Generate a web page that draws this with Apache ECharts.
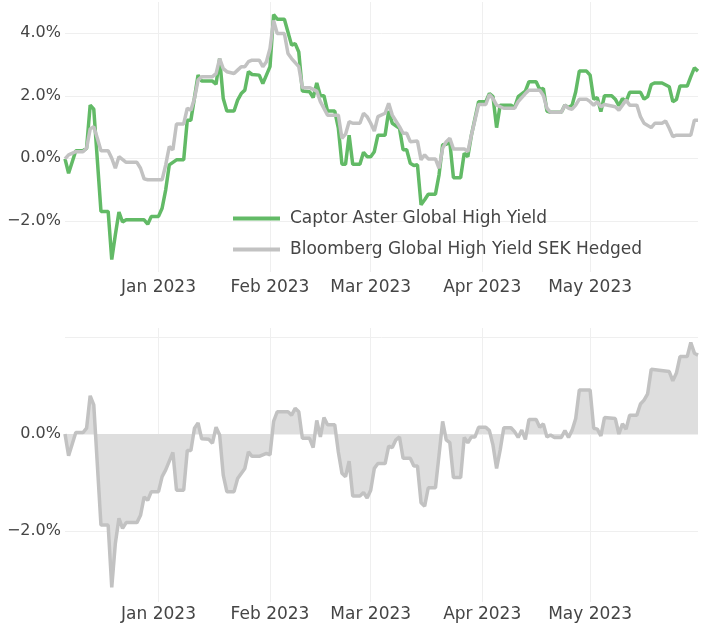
<!DOCTYPE html>
<html>
<head>
<meta charset="utf-8">
<script src="https://cdn.jsdelivr.net/npm/echarts@6/dist/echarts.min.js"></script>
<style>
html,body{margin:0;padding:0;background:#fff;}
#chart{width:707px;height:627px;}
</style>
</head>
<body>
<div id="chart"></div>
<script>
const seriesNames = ['Captor Aster Global High Yield', 'Bloomberg Global High Yield SEK Hedged'];
const monthTicks = ['2023-01-01','2023-02-01','2023-03-01','2023-04-01','2023-05-01'];
const monthNames = ['Jan','Feb','Mar','Apr','May','Jun','Jul','Aug','Sep','Oct','Nov','Dec'];
const topYTicks = [-2, 0, 2, 4];
const bottomYTicks = [-2, 0, 2];
const bottomYLabels = [-2, 0];

const captor = [
['2022-12-06',-0.02],['2022-12-07',-0.48],['2022-12-09',0.24],['2022-12-11',0.24],['2022-12-12',0.32],
['2022-12-13',1.70],['2022-12-14',1.57],['2022-12-16',-1.70],['2022-12-18',-1.70],['2022-12-19',-3.24],
['2022-12-20',-2.45],['2022-12-21',-1.72],['2022-12-22',-2.04],['2022-12-23',-1.97],['2022-12-28',-1.97],
['2022-12-29',-2.11],['2022-12-30',-1.86],['2023-01-01',-1.86],['2023-01-02',-1.60],['2023-01-03',-1.01],
['2023-01-04',-0.21],['2023-01-06',-0.05],['2023-01-08',-0.05],['2023-01-09',1.22],['2023-01-10',1.22],
['2023-01-12',2.66],['2023-01-13',2.47],['2023-01-16',2.47],['2023-01-17',2.37],['2023-01-18',3.19],
['2023-01-19',1.91],['2023-01-20',1.51],['2023-01-22',1.51],['2023-01-23',1.86],['2023-01-24',2.07],
['2023-01-25',2.18],['2023-01-26',2.77],['2023-01-27',2.68],['2023-01-29',2.66],['2023-01-30',2.39],
['2023-01-31',2.66],['2023-02-01',2.93],['2023-02-02',4.60],['2023-02-03',4.45],['2023-02-05',4.45],
['2023-02-07',3.62],['2023-02-08',3.67],['2023-02-09',3.40],['2023-02-10',2.15],['2023-02-12',2.13],
['2023-02-13',1.94],['2023-02-14',2.41],['2023-02-15',2.00],['2023-02-16',2.00],['2023-02-17',1.51],
['2023-02-19',1.51],['2023-02-20',0.96],['2023-02-21',-0.19],['2023-02-22',-0.19],['2023-02-23',0.74],
['2023-02-24',-0.19],['2023-02-26',-0.19],['2023-02-27',0.19],['2023-02-28',0.05],['2023-03-01',0.05],
['2023-03-02',0.21],['2023-03-03',0.74],['2023-03-05',0.74],['2023-03-06',1.51],['2023-03-07',1.12],
['2023-03-09',0.96],['2023-03-10',0.27],['2023-03-11',0.27],['2023-03-12',-0.16],['2023-03-13',-0.23],
['2023-03-14',-0.21],['2023-03-15',-1.49],['2023-03-16',-1.33],['2023-03-17',-1.15],['2023-03-19',-1.15],
['2023-03-20',-0.53],['2023-03-21',0.43],['2023-03-22',0.45],['2023-03-23',0.51],['2023-03-24',-0.62],
['2023-03-26',-0.62],['2023-03-27',0.16],['2023-03-28',0.05],['2023-03-29',0.74],['2023-03-31',1.81],
['2023-04-02',1.81],['2023-04-03',2.07],['2023-04-04',1.97],['2023-04-05',0.98],['2023-04-06',1.70],
['2023-04-09',1.70],['2023-04-10',1.62],['2023-04-11',1.97],['2023-04-13',2.15],['2023-04-14',2.45],
['2023-04-16',2.45],['2023-04-17',2.20],['2023-04-18',2.23],['2023-04-19',1.51],['2023-04-20',1.47],
['2023-04-23',1.47],['2023-04-24',1.70],['2023-04-25',1.62],['2023-04-26',1.70],['2023-04-27',2.13],
['2023-04-28',2.79],['2023-04-30',2.79],['2023-05-01',2.66],['2023-05-02',1.89],['2023-05-03',1.94],
['2023-05-04',1.49],['2023-05-05',2.00],['2023-05-07',2.00],['2023-05-08',1.89],['2023-05-09',1.68],
['2023-05-10',1.91],['2023-05-11',1.81],['2023-05-12',2.11],['2023-05-15',2.11],['2023-05-16',1.89],
['2023-05-17',1.97],['2023-05-18',2.36],['2023-05-19',2.41],['2023-05-21',2.41],['2023-05-23',2.29],
['2023-05-24',1.81],['2023-05-25',1.88],['2023-05-26',2.31],['2023-05-28',2.31],['2023-05-29',2.61],
['2023-05-30',2.89],['2023-05-31',2.79]
];

const bloomberg = [
['2022-12-06',-0.02],['2022-12-07',0.11],['2022-12-09',0.21],['2022-12-11',0.21],['2022-12-12',0.32],
['2022-12-13',0.94],['2022-12-14',1.01],['2022-12-15',0.64],['2022-12-16',0.24],['2022-12-18',0.24],
['2022-12-19',0.00],['2022-12-20',-0.32],['2022-12-21',0.05],['2022-12-23',-0.13],['2022-12-26',-0.13],
['2022-12-27',-0.32],['2022-12-28',-0.66],['2022-12-29',-0.69],['2023-01-02',-0.69],['2023-01-03',-0.21],
['2023-01-04',0.37],['2023-01-05',0.27],['2023-01-06',1.10],['2023-01-08',1.10],['2023-01-09',1.60],
['2023-01-10',1.54],['2023-01-11',1.91],['2023-01-12',2.50],['2023-01-13',2.61],['2023-01-16',2.61],
['2023-01-17',2.71],['2023-01-18',3.19],['2023-01-19',2.87],['2023-01-20',2.77],['2023-01-22',2.71],
['2023-01-23',2.82],['2023-01-24',2.93],['2023-01-25',2.93],['2023-01-26',3.09],['2023-01-27',3.14],
['2023-01-29',3.14],['2023-01-30',2.93],['2023-01-31',3.09],['2023-02-01',3.51],['2023-02-02',4.41],
['2023-02-03',3.99],['2023-02-05',3.99],['2023-02-06',3.35],['2023-02-07',3.19],['2023-02-09',2.93],
['2023-02-10',2.26],['2023-02-12',2.26],['2023-02-14',2.15],['2023-02-15',1.81],['2023-02-17',1.38],
['2023-02-20',1.38],['2023-02-21',0.64],['2023-02-22',0.77],['2023-02-23',1.17],['2023-02-24',1.12],
['2023-02-26',1.12],['2023-02-27',1.44],['2023-02-28',1.33],['2023-03-01',1.12],['2023-03-02',0.87],
['2023-03-03',1.33],['2023-03-05',1.44],['2023-03-06',1.76],['2023-03-07',1.38],['2023-03-09',1.01],
['2023-03-10',0.80],['2023-03-11',0.80],['2023-03-12',0.53],['2023-03-14',0.55],['2023-03-15',-0.05],
['2023-03-16',0.11],['2023-03-17',-0.02],['2023-03-19',-0.02],['2023-03-20',-0.32],['2023-03-21',0.32],
['2023-03-22',0.53],['2023-03-23',0.64],['2023-03-24',0.30],['2023-03-27',0.30],['2023-03-28',0.21],
['2023-03-29',0.74],['2023-03-31',1.72],['2023-04-02',1.72],['2023-04-03',2.04],['2023-04-04',1.91],
['2023-04-05',1.70],['2023-04-07',1.60],['2023-04-10',1.60],['2023-04-11',1.81],['2023-04-13',2.07],
['2023-04-14',2.18],['2023-04-17',2.18],['2023-04-18',2.01],['2023-04-19',1.60],['2023-04-20',1.47],
['2023-04-23',1.47],['2023-04-24',1.70],['2023-04-25',1.60],['2023-04-26',1.57],['2023-04-27',1.70],
['2023-04-28',1.89],['2023-04-30',1.89],['2023-05-01',1.81],['2023-05-02',1.70],['2023-05-03',1.81],
['2023-05-04',1.65],['2023-05-05',1.72],['2023-05-08',1.65],['2023-05-09',1.54],['2023-05-10',1.70],
['2023-05-11',1.86],['2023-05-12',1.70],['2023-05-14',1.70],['2023-05-15',1.33],['2023-05-16',1.12],
['2023-05-18',0.98],['2023-05-19',1.12],['2023-05-21',1.12],['2023-05-22',1.19],['2023-05-23',0.96],
['2023-05-24',0.69],['2023-05-25',0.74],['2023-05-29',0.74],['2023-05-30',1.22],['2023-05-31',1.22]
];

const excess = [
['2022-12-06',0.00],['2022-12-07',-0.45],['2022-12-09',0.03],['2022-12-11',0.03],['2022-12-12',0.12],
['2022-12-13',0.79],['2022-12-14',0.60],['2022-12-16',-1.88],['2022-12-18',-1.88],['2022-12-19',-3.17],
['2022-12-20',-2.26],['2022-12-21',-1.74],['2022-12-22',-1.95],['2022-12-23',-1.83],['2022-12-26',-1.83],
['2022-12-27',-1.68],['2022-12-28',-1.30],['2022-12-29',-1.37],['2022-12-30',-1.19],['2023-01-01',-1.19],
['2023-01-02',-0.88],['2023-01-03',-0.74],['2023-01-05',-0.38],['2023-01-06',-1.16],['2023-01-08',-1.16],
['2023-01-09',-0.34],['2023-01-10',-0.34],['2023-01-11',0.12],['2023-01-12',0.23],['2023-01-13',-0.10],
['2023-01-15',-0.11],['2023-01-16',-0.19],['2023-01-17',0.14],['2023-01-18',-0.02],['2023-01-19',-0.85],
['2023-01-20',-1.19],['2023-01-22',-1.19],['2023-01-23',-0.92],['2023-01-25',-0.71],['2023-01-26',-0.37],
['2023-01-27',-0.46],['2023-01-29',-0.46],['2023-01-31',-0.40],['2023-02-01',-0.43],['2023-02-02',0.26],
['2023-02-03',0.46],['2023-02-06',0.46],['2023-02-07',0.39],['2023-02-08',0.53],['2023-02-09',0.46],
['2023-02-10',-0.09],['2023-02-12',-0.09],['2023-02-13',-0.28],['2023-02-14',0.28],['2023-02-15',-0.06],
['2023-02-16',0.34],['2023-02-17',0.19],['2023-02-19',0.19],['2023-02-20',-0.37],['2023-02-21',-0.81],
['2023-02-22',-0.88],['2023-02-23',-0.56],['2023-02-24',-1.28],['2023-02-26',-1.28],['2023-02-27',-1.21],
['2023-02-28',-1.32],['2023-03-01',-1.16],['2023-03-02',-0.71],['2023-03-03',-0.61],['2023-03-05',-0.61],
['2023-03-06',-0.25],['2023-03-07',-0.28],['2023-03-08',-0.12],['2023-03-09',-0.06],['2023-03-10',-0.50],
['2023-03-12',-0.50],['2023-03-13',-0.66],['2023-03-14',-0.66],['2023-03-15',-1.42],['2023-03-16',-1.49],
['2023-03-17',-1.11],['2023-03-19',-1.11],['2023-03-20',-0.43],['2023-03-21',0.26],['2023-03-22',-0.12],
['2023-03-23',-0.18],['2023-03-24',-0.90],['2023-03-26',-0.90],['2023-03-27',-0.07],['2023-03-28',-0.18],
['2023-03-29',-0.06],['2023-03-30',-0.06],['2023-03-31',0.14],['2023-04-02',0.14],['2023-04-03',0.07],
['2023-04-04',-0.23],['2023-04-05',-0.71],['2023-04-06',-0.33],['2023-04-07',0.13],['2023-04-09',0.13],
['2023-04-10',0.05],['2023-04-11',-0.07],['2023-04-12',0.08],['2023-04-13',-0.11],['2023-04-14',0.30],
['2023-04-16',0.30],['2023-04-17',0.14],['2023-04-18',0.21],['2023-04-19',-0.06],['2023-04-20',-0.02],
['2023-04-21',-0.07],['2023-04-23',-0.07],['2023-04-24',0.07],['2023-04-25',-0.07],['2023-04-26',0.08],
['2023-04-27',0.32],['2023-04-28',0.91],['2023-05-01',0.91],['2023-05-02',0.12],['2023-05-03',0.10],
['2023-05-04',-0.04],['2023-05-05',0.34],['2023-05-08',0.32],['2023-05-09',0.00],['2023-05-10',0.21],
['2023-05-11',0.10],['2023-05-12',0.39],['2023-05-14',0.39],['2023-05-15',0.62],['2023-05-16',0.70],
['2023-05-17',0.83],['2023-05-18',1.34],['2023-05-23',1.29],['2023-05-24',1.10],['2023-05-25',1.26],
['2023-05-26',1.60],['2023-05-28',1.60],['2023-05-29',1.89],['2023-05-30',1.67],['2023-05-31',1.63]
];

const FONT = 'DejaVu Sans';
const TEXT = '#454545';
const GRID_LINE = '#efefef';

function toTs(s){ const p = s.split('-').map(Number); return Date.UTC(p[0], p[1]-1, p[2]); }
function toPoints(arr){ return arr.map(function(d){ return [toTs(d[0]), d[1]]; }); }
const tickTs = monthTicks.map(toTs);
const xMin = toTs('2022-12-06');
const xMax = toTs('2023-05-31');
function pct(v){ return (v < 0 ? '\u2212' : '') + Math.abs(v).toFixed(1) + '%'; }
function monthLabel(v){ const d = new Date(v); return monthNames[d.getUTCMonth()] + ' ' + d.getUTCFullYear(); }

function xAxisCfg(gridIndex, margin){
  return {
    type: 'value', gridIndex: gridIndex, min: xMin, max: xMax,
    axisLine: {show: false}, axisTick: {show: false, customValues: tickTs},
    splitLine: {show: true, lineStyle: {color: GRID_LINE, width: 1}},
    axisLabel: {customValues: tickTs, formatter: monthLabel, color: TEXT, fontFamily: FONT, fontSize: 17, margin: margin, hideOverlap: false}
  };
}
function yAxisCfg(gridIndex, min, max, ticks, labels){
  return {
    type: 'value', gridIndex: gridIndex, min: min, max: max,
    axisLine: {show: false}, axisTick: {show: false, customValues: ticks},
    splitLine: {show: true, lineStyle: {color: GRID_LINE, width: 1}},
    axisLabel: {customValues: labels, formatter: pct, color: TEXT, fontFamily: FONT, fontSize: 16, margin: 4}
  };
}

const chart = echarts.init(document.getElementById('chart'), null, {renderer: 'canvas'});
chart.setOption({
  animation: false,
  backgroundColor: '#ffffff',
  grid: [
    {left: 65, right: 9, top: 2, height: 270},
    {left: 65, right: 9, top: 328, height: 274}
  ],
  xAxis: [xAxisCfg(0, 7), xAxisCfg(1, 4)],
  yAxis: [
    yAxisCfg(0, -3.64, 5.0, topYTicks, topYTicks),
    yAxisCfg(1, -3.47, 2.19, bottomYTicks, bottomYLabels)
  ],
  legend: {
    data: seriesNames, orient: 'vertical', left: 233, top: 210, padding: 0,
    icon: 'rect', itemWidth: 47, itemHeight: 4, itemGap: 14,
    textStyle: {color: TEXT, fontFamily: FONT, fontSize: 17, padding: [0,0,0,5]}
  },
  series: [
    {name: seriesNames[0], type: 'line', xAxisIndex: 0, yAxisIndex: 0, data: toPoints(captor), showSymbol: false, symbol: 'none',
     lineStyle: {color: '#62ba66', width: 3.5}, itemStyle: {color: '#62ba66'}},
    {name: seriesNames[1], type: 'line', xAxisIndex: 0, yAxisIndex: 0, data: toPoints(bloomberg), showSymbol: false, symbol: 'none',
     lineStyle: {color: '#c2c2c2', width: 3.5}, itemStyle: {color: '#c2c2c2'}},
    {name: 'Excess', type: 'line', xAxisIndex: 1, yAxisIndex: 1, data: toPoints(excess), showSymbol: false, symbol: 'none',
     lineStyle: {color: '#c2c2c2', width: 3.5}, itemStyle: {color: '#c2c2c2'},
     areaStyle: {color: '#dedede', opacity: 1, origin: 0}}
  ]
});
</script>
</body>
</html>
